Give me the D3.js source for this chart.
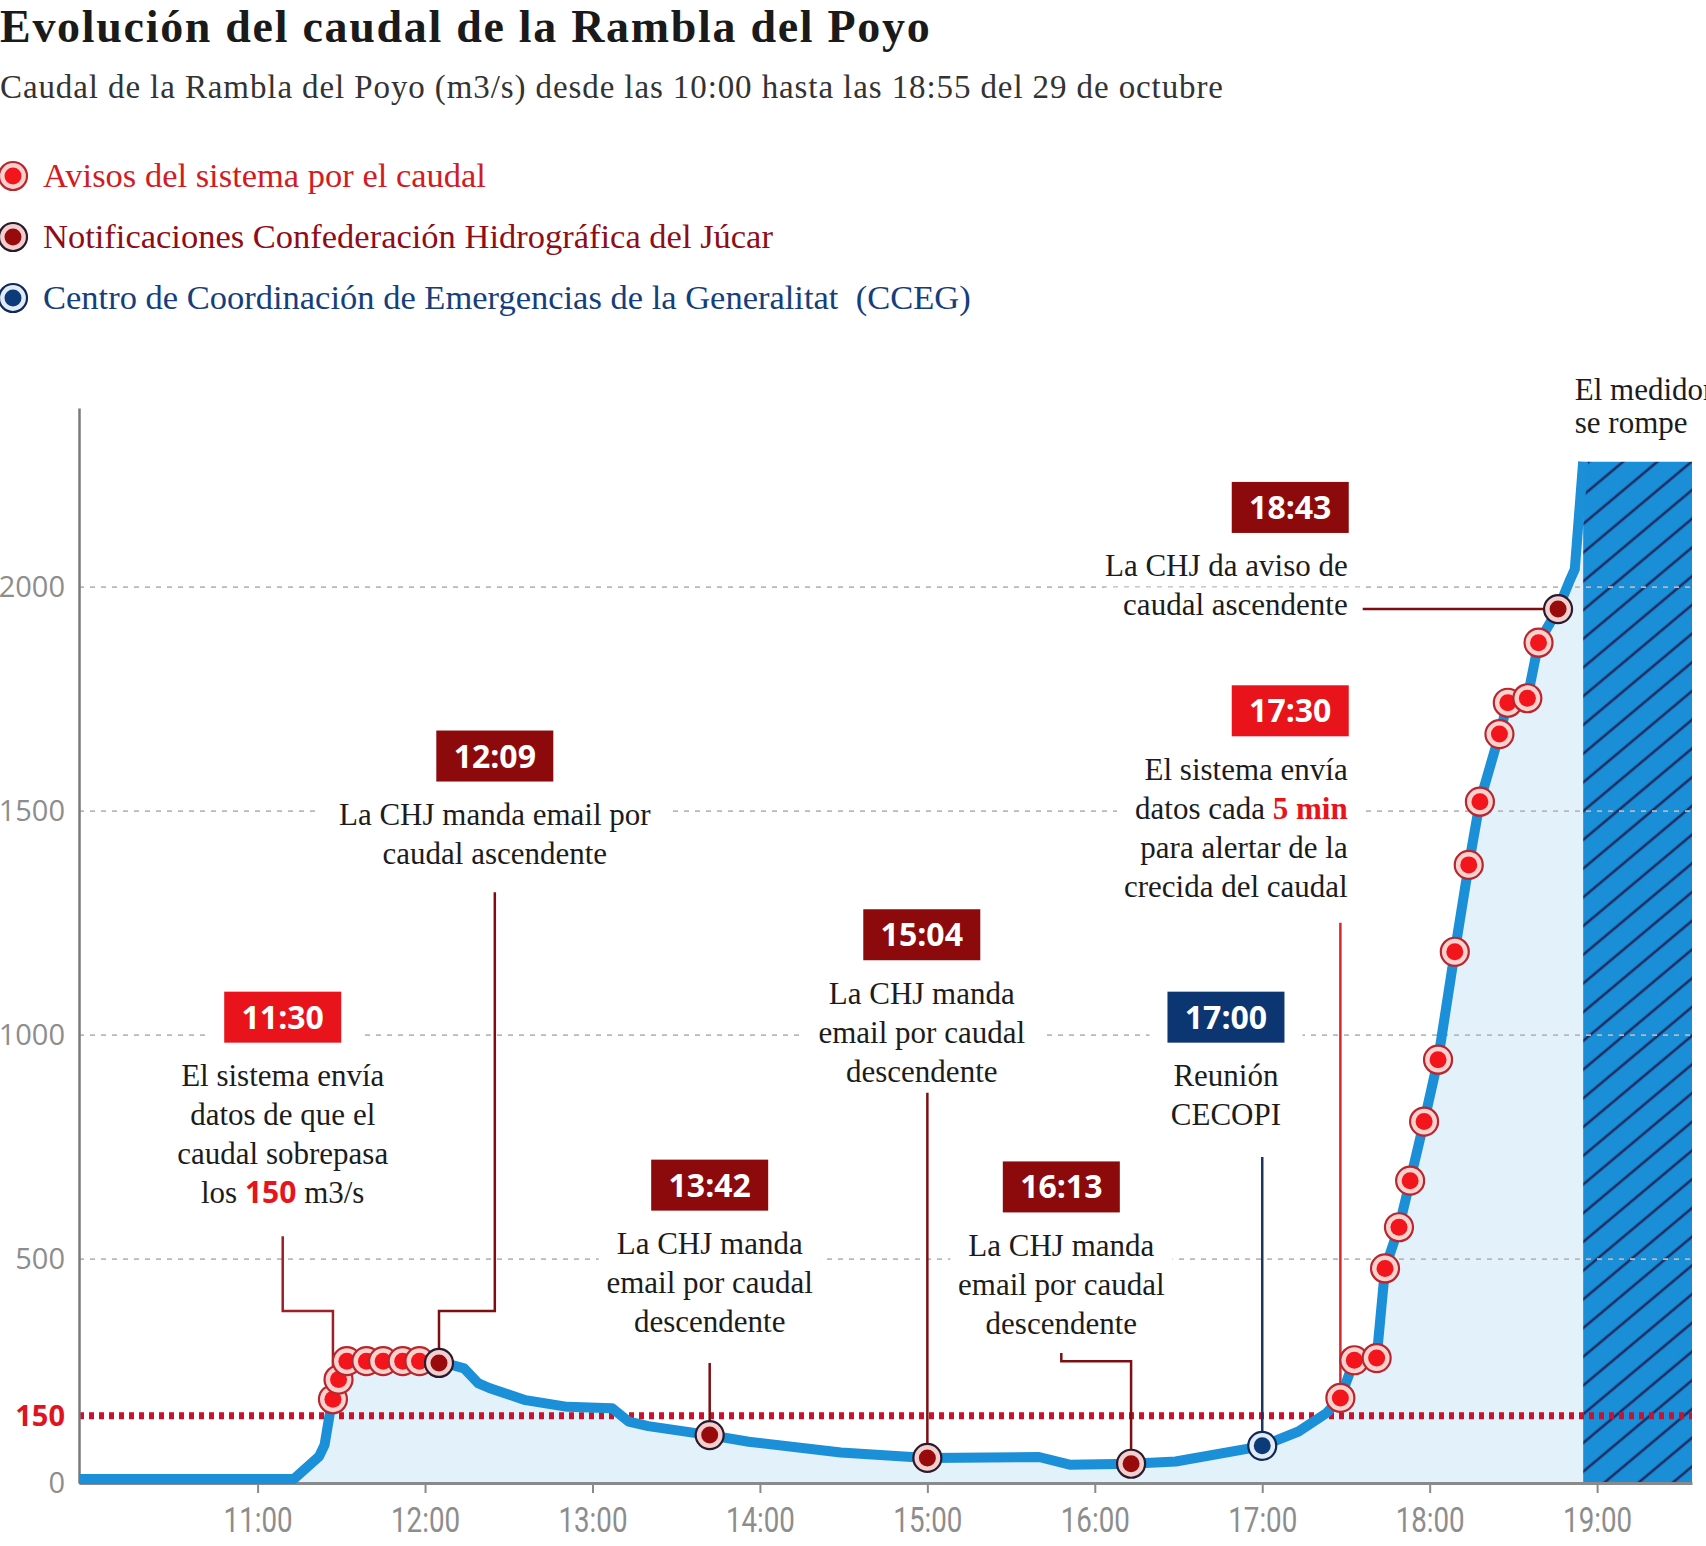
<!DOCTYPE html>
<html lang="es">
<head>
<meta charset="utf-8">
<title>Evolución del caudal de la Rambla del Poyo</title>
<script src="https://cdn.jsdelivr.net/npm/d3@7/dist/d3.min.js"></script>
<style>
  html, body { margin:0; padding:0; background:#ffffff; overflow:hidden; }
  svg { display:block; }
  text { white-space: pre; }
  .title { font-family: "Liberation Serif", serif; font-weight:700; font-size:46px; letter-spacing:1.7px; fill:#1a1a1a; }
  .subtitle { font-family: "Liberation Serif", serif; font-size:33px; letter-spacing:0.9px; fill:#333333; }
  .legend { font-family: "Liberation Serif", serif; font-size:34.5px; }
  .note { font-family: "Liberation Serif", serif; font-size:31px; fill:#1c1c1c; }
  .hl-sans { font-family: "Open Sans", sans-serif; font-weight:700; font-size:30px; fill:#e8131b; }
  .hl-serif { font-weight:700; fill:#e8131b; }
  .boxlabel { font-family: "Open Sans", sans-serif; font-weight:700; font-size:32px; fill:#ffffff; }
</style>
</head>
<body>
<svg id="chart" width="1706" height="1546" xmlns="http://www.w3.org/2000/svg"></svg>
<script>
// ---------------- DATA ----------------
const flowTimes = ["09:56","11:13","11:22","11:24","11:26","11:27","11:29","11:31","11:32","11:39",
  "11:45","11:52","11:58","12:05","12:10","12:14","12:19","12:23","12:36","12:51",
  "13:07","13:13","13:20","13:42","13:56","14:29","15:00","15:40","15:51","16:13",
  "16:29","16:56","17:00","17:13","17:23","17:28","17:33","17:41","17:44","17:49",
  "17:53","17:58","18:03","18:09","18:14","18:18","18:25","18:28","18:35","18:39",
  "18:46","18:50","18:52","18:54","18:55"];
const flowValues = [9,9,59,85,160,187,231,268,272,272,
  272,272,272,268,263,256,223,212,185,170,
  167,137,127,107,92,68,56,58,41,43,
  48,78,83,115,156,190,274,279,479,571,
  675,807,945,1186,1380,1521,1672,1742,1752,1876,
  1951,2012,2040,2200,2280];

const yTickValues = [0, 500, 1000, 1500, 2000];
const thresholdValue = 150;
const xTickLabels = ["11:00","12:00","13:00","14:00","15:00","16:00","17:00","18:00","19:00"];

const systemAlertTimes = ["11:27","11:29","11:32","11:39","11:45","11:52","11:58",
  "17:28","17:33","17:41","17:44","17:49","17:53","17:58","18:03","18:09","18:14",
  "18:18","18:25","18:28","18:35","18:39"];
const chjTimes  = ["12:05","13:42","15:00","16:13","18:46"];
const chjLabels = ["12:09","13:42","15:04","16:13","18:43"];
const ccegTimes  = ["17:00"];
const ccegLabels = ["17:00"];

const brokenStart = "18:55";
const brokenTopValue = 2280;
const timeDomain = ["09:56","19:34"];
const valueDomain = [0, 2400];

const titleText = "Evolución del caudal de la Rambla del Poyo";
const subtitleText = "Caudal de la Rambla del Poyo (m3/s) desde las 10:00 hasta las 18:55 del 29 de octubre";
const legendLabels = ["Avisos del sistema por el caudal",
  "Notificaciones Confederación Hidrográfica del Júcar",
  "Centro de Coordinación de Emergencias de la Generalitat  (CCEG)"];
const legendKinds = ["alert","chj","cceg"];

// Annotation texts and layout (layout positions given in chart units: clock time, m3/s)
const annotations = [
  {label:"11:30", kind:"alert", marker:"11:27", anchor:"middle", at:["11:09",1040],
   lines:[["El sistema envía"],["datos de que el"],["caudal sobrepasa"],["los ",{t:"150",c:"hl-sans"}," m3/s"]],
   leader:[["11:09",551],["11:09",384],["M",384],["M","M"]], leaderColor:"#9e1f25"},
  {label:"12:09", kind:"chj", marker:"12:05", anchor:"middle", at:["12:25",1623],
   lines:[["La CHJ manda email por"],["caudal ascendente"]],
   leader:[["12:25",1319],["12:25",384],["M",384],["M","M"]], leaderColor:"#7d0f12"},
  {label:"13:42", kind:"chj", marker:"13:42", anchor:"middle", at:["13:42",665],
   lines:[["La CHJ manda"],["email por caudal"],["descendente"]],
   leader:[["M",268],["M","M"]], leaderColor:"#7d0f12"},
  {label:"15:04", kind:"chj", marker:"15:00", anchor:"middle", at:["14:58",1224],
   lines:[["La CHJ manda"],["email por caudal"],["descendente"]],
   leader:[["M",871],["M","M"]], leaderColor:"#7d0f12"},
  {label:"16:13", kind:"chj", marker:"16:13", anchor:"middle", at:["15:48",661],
   lines:[["La CHJ manda"],["email por caudal"],["descendente"]],
   leader:[["15:48",290],["15:48",272],["M",272],["M","M"]], leaderColor:"#7d0f12"},
  {label:"17:00", kind:"cceg", marker:"17:00", anchor:"middle", at:["16:47",1040],
   lines:[["Reunión"],["CECOPI"]],
   leader:[["M",728],["M","M"]], leaderColor:"#1c3563"},
  {label:"17:30", kind:"alert", marker:"17:28", anchor:"end", at:["17:31",1724],
   lines:[["El sistema envía"],["datos cada ",{t:"5 min",c:"hl-serif"}],["para alertar de la"],["crecida del caudal"]],
   leader:[["M",1251],["M","M"]], leaderColor:"#d42a2f"},
  {label:"18:43", kind:"chj", marker:"18:46", anchor:"end", at:["17:31",2178],
   lines:[["La CHJ da aviso de"],["caudal ascendente"]],
   leader:[["17:36","M"],["M","M"]], leaderColor:"#7d0f12"}
];
const brokenNote = {lines:["El medidor","se rompe"], at:["18:52",2418]};

// ---------------- STYLE ----------------
const markerStyle = {
  alert: {ring:"#f9d2cf", edge:"#b8262e", core:"#f2161c"},
  chj:   {ring:"#f3cfcf", edge:"#2a1a2c", core:"#980a0c"},
  cceg:  {ring:"#e2ebf6", edge:"#0f2a57", core:"#0d3a78"}
};
const boxColor = {alert:"#e8131b", chj:"#8c0a0c", cceg:"#0c3672"};
const legendColor = {alert:"#d41a22", chj:"#8f0d18", cceg:"#153e7c"};

// ---------------- SCALES ----------------
const svg = d3.select("#chart");
const parseT = d3.timeParse("%H:%M");
const x = d3.scaleTime().domain(timeDomain.map(parseT)).range([79, 1692]);
const y = d3.scaleLinear().domain(valueDomain).range([1483, 408]);
const flow = flowTimes.map((t, i) => ({t: parseT(t), v: flowValues[i]}));
const valueAt = t => flowValues[flowTimes.indexOf(t)];

// ---------------- DEFS ----------------
const defs = svg.append("defs");
const pat = defs.append("pattern").attr("id", "hatch").attr("patternUnits", "userSpaceOnUse")
  .attr("width", 22).attr("height", 22).attr("patternTransform", "rotate(-40)");
pat.append("rect").attr("width", 22).attr("height", 22).attr("fill", "#1a8fd8");
pat.append("line").attr("x1", -2).attr("x2", 24).attr("y1", 11).attr("y2", 11)
  .attr("stroke", "#1c2d63").attr("stroke-width", 2.6);

// layers
const gArea = svg.append("g");
const gGrid = svg.append("g");
const gAxes = svg.append("g");
const gBg = svg.append("g");
const gLead = svg.append("g");
const gLine = svg.append("g");
const gMark = svg.append("g");
const gLab = svg.append("g");

// area under curve
gArea.append("path").datum(flow)
  .attr("fill", "#e3f1fb")
  .attr("d", d3.area().x(d => x(d.t)).y0(y(0)).y1(d => y(d.v)));

// broken gauge hatched block
gArea.append("rect")
  .attr("x", x(parseT(brokenStart)))
  .attr("y", y(brokenTopValue))
  .attr("width", x.range()[1] - x(parseT(brokenStart)))
  .attr("height", y(0) - y(brokenTopValue))
  .attr("fill", "url(#hatch)");

// gridlines
gGrid.selectAll("line.grid").data(yTickValues.filter(v => v > 0)).join("line")
  .attr("x1", x.range()[0]).attr("x2", x.range()[1])
  .attr("y1", d => y(d)).attr("y2", d => y(d))
  .attr("stroke", "#b8b8b8").attr("stroke-width", 1.8).attr("stroke-dasharray", "5,6");

// threshold line
gGrid.append("line")
  .attr("x1", x.range()[0]).attr("x2", x.range()[1])
  .attr("y1", y(thresholdValue)).attr("y2", y(thresholdValue))
  .attr("stroke", "#c8122e").attr("stroke-width", 7).attr("stroke-dasharray", "5,5");

// x axis
const xAxis = gAxes.append("g").attr("transform", `translate(0,${y(0)})`)
  .call(d3.axisBottom(x).tickValues(xTickLabels.map(parseT)).tickFormat(d3.timeFormat("%H:%M"))
    .tickSize(10).tickSizeOuter(0).tickPadding(13));
xAxis.select(".domain").attr("stroke", "#8a8a8a").attr("stroke-width", 3);
xAxis.selectAll(".tick line").attr("stroke", "#8a8a8a").attr("stroke-width", 2);
xAxis.selectAll(".tick text").attr("fill", "#8d8d8d")
  .style("font-family", "Roboto, sans-serif").style("font-size", "36px")
  .attr("transform", "scale(0.77,1)");

// y axis
const yAxis = gAxes.append("g").attr("transform", `translate(${x.range()[0]},0)`)
  .call(d3.axisLeft(y).tickValues(yTickValues).tickFormat(d3.format("d")).tickSize(0).tickPadding(14));
yAxis.select(".domain").attr("stroke", "#7a7a7a").attr("stroke-width", 2.5);
yAxis.selectAll(".tick text").attr("fill", "#8d8d8d")
  .style("font-family", "'Open Sans', sans-serif").style("font-size", "29px");
gAxes.append("text")
  .attr("x", x.range()[0] - 14).attr("y", y(thresholdValue)).attr("dy", "0.35em")
  .attr("text-anchor", "end")
  .style("font-family", "'Open Sans', sans-serif").style("font-size", "29px").style("font-weight", 700)
  .attr("fill", "#e0141e").text(String(thresholdValue));

// flow line
gLine.append("path").datum(flow)
  .attr("fill", "none").attr("stroke", "#1b8fd8").attr("stroke-width", 10)
  .attr("stroke-linejoin", "round")
  .attr("d", d3.line().x(d => x(d.t)).y(d => y(d.v)));

// markers
function drawMarker(g, cx, cy, kind) {
  const s = markerStyle[kind];
  g.append("circle").attr("cx", cx).attr("cy", cy).attr("r", 14)
    .attr("fill", s.ring).attr("stroke", s.edge).attr("stroke-width", 2.2);
  g.append("circle").attr("cx", cx).attr("cy", cy).attr("r", 8.5).attr("fill", s.core);
}
systemAlertTimes.forEach(t => drawMarker(gMark, x(parseT(t)), y(valueAt(t)), "alert"));
chjTimes.forEach(t => drawMarker(gMark, x(parseT(t)), y(valueAt(t)), "chj"));
ccegTimes.forEach(t => drawMarker(gMark, x(parseT(t)), y(valueAt(t)), "cceg"));

// annotations
const BOX_W = 117, BOX_H = 51, FIRST = 69, LH = 39;
annotations.forEach(a => {
  const cx = x(parseT(a.at[0])), cy = y(a.at[1]);
  const bx = a.anchor === "end" ? cx - BOX_W : cx - BOX_W / 2;
  gBg.append("rect").attr("x", bx - 18).attr("y", cy - BOX_H / 2 - 4)
    .attr("width", BOX_W + 36).attr("height", BOX_H + 8).attr("fill", "#ffffff");
  gLab.append("rect").attr("x", bx).attr("y", cy - BOX_H / 2)
    .attr("width", BOX_W).attr("height", BOX_H).attr("fill", boxColor[a.kind]);
  gLab.append("text").attr("class", "boxlabel").attr("x", bx + BOX_W / 2).attr("y", cy + 11.5)
    .attr("text-anchor", "middle").text(a.label);
  const tx = a.anchor === "end" ? cx - 1 : cx;
  a.lines.forEach((segs, i) => {
    const t = gLab.append("text").attr("class", "note").attr("x", tx).attr("y", cy + FIRST + i * LH)
      .attr("text-anchor", a.anchor);
    segs.forEach(s => {
      if (typeof s === "string") t.append("tspan").text(s);
      else t.append("tspan").attr("class", s.c).text(s.t);
    });
    const b = t.node().getBBox();
    gBg.append("rect").attr("x", b.x - 18).attr("y", b.y).attr("width", b.width + 36)
      .attr("height", b.height).attr("fill", "#ffffff");
  });
  // leader
  const mt = a.marker, mv = valueAt(mt);
  const pts = a.leader.map(p => [
    p[0] === "M" ? x(parseT(mt)) : x(parseT(p[0])),
    p[1] === "M" ? y(mv) : y(p[1])
  ]);
  gLead.append("path").attr("d", d3.line()(pts)).attr("fill", "none")
    .attr("stroke", a.leaderColor).attr("stroke-width", 2.5);
});

// broken gauge note
brokenNote.lines.forEach((l, i) => {
  gLab.append("text").attr("class", "note").attr("x", x(parseT(brokenNote.at[0])))
    .attr("y", y(brokenNote.at[1]) + i * 33).text(l);
});

// title, subtitle
svg.append("text").attr("class", "title").attr("x", 0).attr("y", 42).text(titleText);
svg.append("text").attr("class", "subtitle").attr("x", 0).attr("y", 98).text(subtitleText);

// legend
const legendY = [176, 237, 298];
legendLabels.forEach((l, i) => {
  drawMarker(svg, 13, legendY[i], legendKinds[i]);
  svg.append("text").attr("class", "legend").attr("x", 43).attr("y", legendY[i] + 11)
    .attr("fill", legendColor[legendKinds[i]]).text(l);
});
</script>
</body>
</html>
